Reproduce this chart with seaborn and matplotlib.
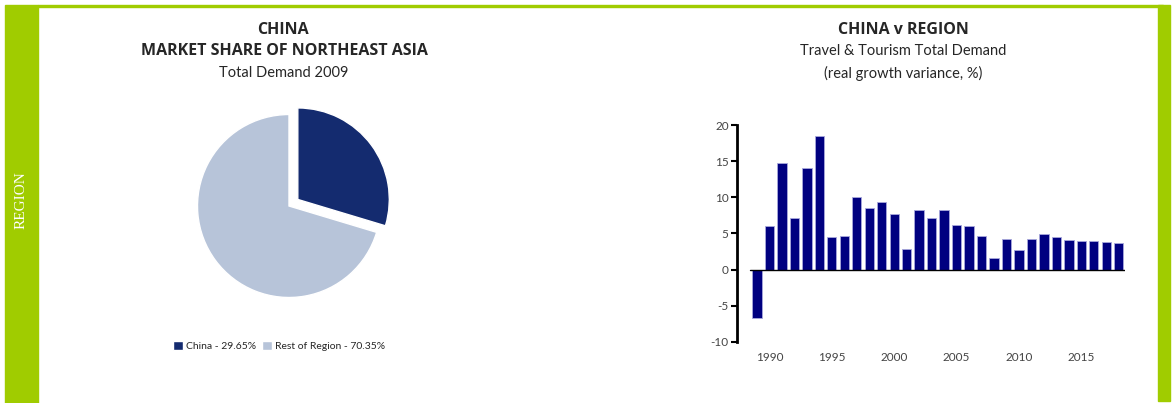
import seaborn as sns
import matplotlib.pyplot as plt
from matplotlib.patches import Rectangle

# =========================
# DATA
# =========================
share_names = ["China", "Rest of Region"]
shares = [29.65, 70.35]
share_colors = ["#142b6f", "#b7c4d9"]

years = list(range(1989, 2019))
growth = [-6.7, 6.0, 14.8, 7.1, 14.0, 18.5, 4.5, 4.7, 10.0, 8.5,
          9.3, 7.7, 2.8, 8.2, 7.1, 8.3, 6.2, 6.1, 4.7, 1.6,
          4.2, 2.7, 4.3, 4.9, 4.5, 4.1, 3.9, 3.9, 3.8, 3.7]
year_ticks = [1990, 1995, 2000, 2005, 2010, 2015]

# =========================
# FIGURE
# =========================
W, H = 1172, 403
sns.set_style("white")
plt.rcParams["font.family"] = ["Lato", "DejaVu Sans"]
plt.rcParams["axes.unicode_minus"] = False

fig = plt.figure(figsize=(W / 100, H / 100), dpi=100)
green = "#a0cc00"
bold_font = ["Open Sans", "DejaVu Sans"]


def px(x, y):
    return x / W, 1 - y / H


# green frame
fig.patches.append(Rectangle(px(5, 403), 33 / W, 398 / H, transform=fig.transFigure,
                             color=green, zorder=0))
fig.patches.append(Rectangle(px(38, 7), 1125 / W, 2 / H, transform=fig.transFigure,
                             color=green, zorder=0))
fig.patches.append(Rectangle(px(1158, 401), 12 / W, 396 / H, transform=fig.transFigure,
                             color=green, zorder=0))
fig.text(*px(21, 200), "REGION", rotation=90, color="white", ha="center", va="center",
         fontsize=11, family=["Liberation Serif"])

# =========================
# PIE
# =========================
r = 91.5
cx, cy = 289, 206
ax1 = fig.add_axes([(cx - 1.1 * r) / W, (H - cy - 1.1 * r) / H, 2.2 * r / W, 2.2 * r / H])
wedges, _ = ax1.pie(shares, colors=share_colors, startangle=90, counterclock=False,
                    explode=[0.12, 0], radius=1)
ax1.set_xlim(-1.1, 1.1)
ax1.set_ylim(-1.1, 1.1)
ax1.axis("off")

fig.text(*px(283, 30), "CHINA", ha="center", va="center", fontsize=11.5,
         fontweight="bold", family=bold_font)
fig.text(*px(284, 51), "MARKET SHARE OF NORTHEAST ASIA", ha="center", va="center",
         fontsize=11.5, fontweight="bold", family=bold_font)
fig.text(*px(284, 73), "Total Demand 2009", ha="center", va="center", fontsize=10.5)

labels = [f"{n} - {s:.2f}%" for n, s in zip(share_names, shares)]
fig.legend(wedges, labels, loc="center", bbox_to_anchor=px(279, 346), ncol=2,
           frameon=False, fontsize=7.5, handlelength=0.9, handleheight=0.9,
           columnspacing=0.6, handletextpad=0.3)

# =========================
# BARS
# =========================
ax2 = fig.add_axes([737 / W, (H - 342) / H, (1125 - 737) / W, 217 / H])
sns.barplot(x=years, y=growth, native_scale=True, color="#000080", width=0.75,
            edgecolor="#a8a8dc", linewidth=0.6, saturation=1, ax=ax2)
ax2.set_xlim(1989 - 1.6, 2018.5)
ax2.set_ylim(-10, 20)
ax2.axhline(0, xmin=0.034, xmax=1, color="black", lw=1)
ax2.set_yticks(range(-10, 25, 5))
ax2.set_xticks(year_ticks)
ax2.set_xlabel("")
ax2.set_ylabel("")
for s in ["top", "right", "bottom"]:
    ax2.spines[s].set_visible(False)
ax2.spines["left"].set_color("black")
ax2.spines["left"].set_linewidth(2)
ax2.tick_params(axis="y", direction="out", length=4, width=1.5, color="black",
                labelsize=8.5, labelcolor="#444444", pad=2, left=True)
ax2.tick_params(axis="x", length=0, labelsize=8.5, labelcolor="#444444", pad=7)

fig.text(*px(903, 30), "CHINA v REGION", ha="center", va="center", fontsize=11.5,
         fontweight="bold", family=bold_font)
fig.text(*px(903, 51), "Travel & Tourism Total Demand", ha="center", va="center",
         fontsize=10.5)
fig.text(*px(903, 73), "(real growth variance, %)", ha="center", va="center", fontsize=10.5)

plt.savefig("out.png", dpi=100)
plt.close()
